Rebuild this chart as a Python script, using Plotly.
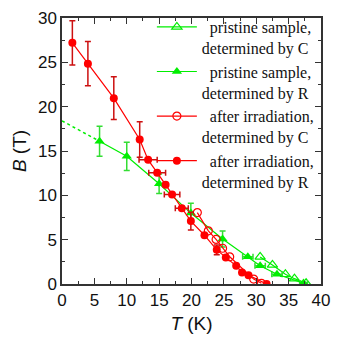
import plotly.graph_objects as go

# pristine sample, determined by C (open green triangles)
pc_T = [30.6, 32.5, 34.5, 35.9, 37.7]
pc_B = [3.05, 2.15, 1.1, 0.6, 0.1]

# pristine sample, determined by R (filled green triangles)
pr_T = [5.8, 10.0, 15.0, 19.9, 24.8, 28.7, 30.6, 33.2, 37.3]
pr_B = [16.1, 14.4, 11.3, 8.0, 5.07, 3.07, 2.05, 1.1, 0.1]
pr_Berr = [1.7, 1.6, 1.1, 1.1, 0.9, 0, 0, 0, 0]
pr_Terr = [0, 0, 0, 0, 0, 0.8, 0.8, 0.8, 0.6]
# dotted extrapolation of the pristine R curve
pe_T = [0.0, 5.8]
pe_B = [18.4, 16.1]

# after irradiation, determined by C (open red circles)
ic_T = [20.9, 22.6, 23.8, 24.8, 25.9, 29.6, 30.8]
ic_B = [8.05, 6.0, 5.03, 4.03, 3.07, 0.55, 0.08]

# after irradiation, determined by R (filled red circles)
ir_T = [1.6, 4.0, 8.0, 12.0, 13.3, 14.7, 16.0, 17.0, 18.5, 19.9, 22.0, 23.9, 25.3, 26.9, 27.8, 28.8, 31.6]
ir_B = [27.2, 24.85, 20.96, 16.3, 14.0, 12.55, 11.2, 10.1, 8.55, 7.1, 5.5, 3.85, 3.0, 2.05, 1.3, 1.0, 0.0]
ir_Berr = [2.5, 2.5, 2.4, 2.0, 0, 0, 0, 0, 0, 1.0, 0, 0.55, 0, 0, 0, 0, 0]
ir_Terr = [0, 0, 0, 0, 1.4, 1.3, 0, 1.2, 1.0, 0, 0, 0, 0, 0, 0, 0, 0]

legend_names = [
    "  pristine sample,<br>determined by C",
    "  pristine sample,<br>determined by R",
    "  after irradiation,<br>determined by C",
    "  after irradiation,<br>determined by R",
]

GREEN = "#00ee00"
GREEN_ERR = "#33dd33"
RED = "#ff0000"
RED_ERR = "#cc1010"

fig = go.Figure()

fig.add_trace(go.Scatter(x=pe_T, y=pe_B, mode="lines", showlegend=False,
                         line=dict(color=GREEN, width=1.5, dash="dot")))

fig.add_trace(go.Scatter(
    x=pc_T, y=pc_B, mode="lines+markers", name=legend_names[0],
    line=dict(color=GREEN, width=1.2),
    marker=dict(symbol="triangle-up-open", size=9, color=GREEN, line=dict(width=1.2))))

fig.add_trace(go.Scatter(
    x=pr_T, y=pr_B, mode="lines+markers", name=legend_names[1],
    line=dict(color=GREEN, width=1.2),
    marker=dict(symbol="triangle-up", size=9, color=GREEN),
    error_y=dict(type="data", array=pr_Berr, color=GREEN_ERR, thickness=1.5, width=3),
    error_x=dict(type="data", array=pr_Terr, color=GREEN_ERR, thickness=1.5, width=3)))

fig.add_trace(go.Scatter(
    x=ic_T, y=ic_B, mode="lines+markers", name=legend_names[2],
    line=dict(color=RED, width=1.2),
    marker=dict(symbol="circle-open", size=8, color=RED, line=dict(width=1.2))))

fig.add_trace(go.Scatter(
    x=ir_T, y=ir_B, mode="lines+markers", name=legend_names[3],
    line=dict(color=RED, width=1.2),
    marker=dict(symbol="circle", size=8, color=RED),
    error_y=dict(type="data", array=ir_Berr, color=RED_ERR, thickness=1.5, width=3),
    error_x=dict(type="data", array=ir_Terr, color=RED_ERR, thickness=1.5, width=3)))

axis_common = dict(
    showline=True, linecolor="#333333", linewidth=1.5, mirror="allticks",
    ticks="inside", ticklen=6, tickwidth=1.3, tickcolor="#333333",
    showgrid=False, zeroline=False,
    tickfont=dict(family="Liberation Sans, Arial", size=17, color="#111111"),
    minor=dict(ticks="inside", ticklen=3, tickwidth=1.1, tickcolor="#333333", dtick=2.5),
)

fig.update_xaxes(range=[0, 40], dtick=5, tick0=0,
                 title=dict(text="<i>T</i> (K)", standoff=8,
                            font=dict(family="Liberation Sans, Arial", size=19, color="#111111")),
                 **axis_common)
fig.update_yaxes(range=[0, 30], dtick=5, tick0=0,
                 title=dict(text="<i>B</i> (T)", standoff=6,
                            font=dict(family="Liberation Sans, Arial", size=19, color="#111111")),
                 **axis_common)

fig.update_layout(
    width=339, height=340,
    margin=dict(l=62, r=9, t=15, b=55),
    paper_bgcolor="white", plot_bgcolor="white",
    legend=dict(x=0.347, y=1.03, xanchor="left", yanchor="top", maxheight=1.0,
                bgcolor="rgba(0,0,0,0)", itemwidth=40, valign="top",
                font=dict(family="Liberation Serif, Times New Roman", size=16, color="#111111"),
                tracegroupgap=0),
)

fig.write_html("out.html")
